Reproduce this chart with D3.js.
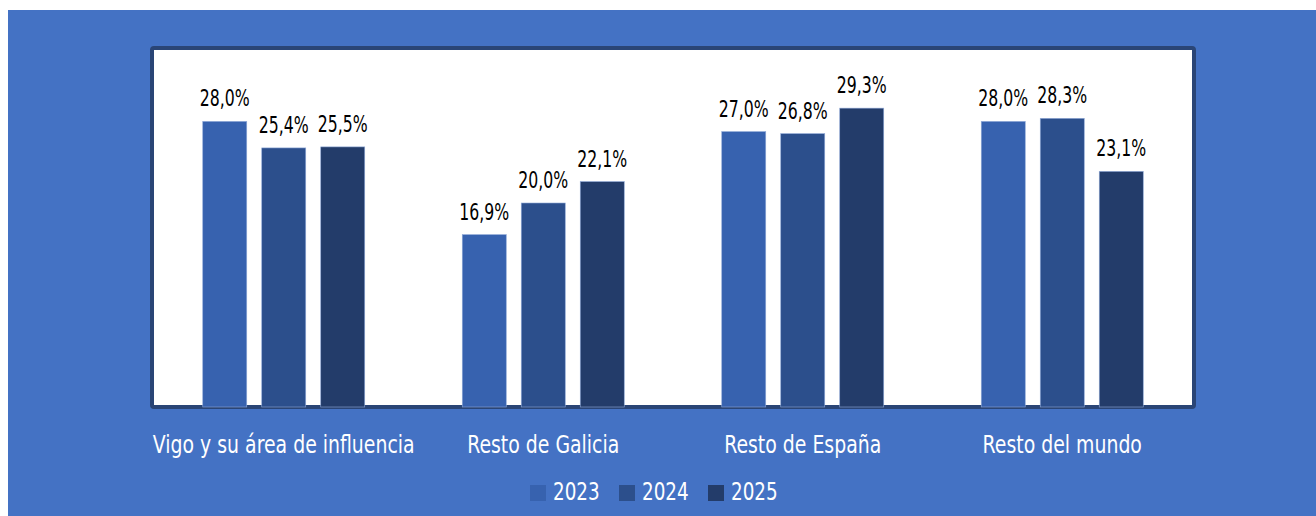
<!DOCTYPE html>
<html>
<head>
<meta charset="utf-8">
<script src="https://cdn.jsdelivr.net/npm/d3@7"></script>
<style>
  html, body { margin: 0; padding: 0; background: #fff; }
  svg { display: block; }
  text { font-family: "DejaVu Sans Condensed", "DejaVu Sans", sans-serif; font-stretch: condensed; }
</style>
</head>
<body>
<div id="chart"></div>
<script>
var categories = ["Vigo y su área de influencia", "Resto de Galicia", "Resto de España", "Resto del mundo"];
var years = ["2023", "2024", "2025"];
var values2023 = [28.0, 16.9, 27.0, 28.0];
var values2024 = [25.4, 20.0, 26.8, 28.3];
var values2025 = [25.5, 22.1, 29.3, 23.1];

var series = [values2023, values2024, values2025];

var width = 1316,
    height = 516;

var colors = ["#3762af", "#2c4f8c", "#233c6a"];

var svg = d3.select("#chart")
            .append("svg")
            .attr("width", width)
            .attr("height", height);

/* blue background */
svg.append("rect")
    .attr("x", 8)
    .attr("y", 10)
    .attr("width", width - 8)
    .attr("height", height - 10)
    .attr("fill", "#4472c4");

/* white plot panel with dark frame */
var plot = { left: 154, right: 1192, top: 50, bottom: 407 };

svg.append("rect")
    .attr("x", plot.left - 2)
    .attr("y", plot.top - 2)
    .attr("width", plot.right - plot.left + 4)
    .attr("height", plot.bottom - plot.top + 2)
    .attr("rx", 2)
    .attr("fill", "#fff")
    .attr("stroke", "#2a4576")
    .attr("stroke-width", 4);

/* scales */
var x0 = d3.scaleBand()
            .domain(categories)
            .range([plot.left, plot.right]);

var x1 = d3.scaleBand()
            .domain(years)
            .range([x0.bandwidth() / 2 - 81, x0.bandwidth() / 2 + 81])
            .paddingInner(0.254);

var y = d3.scaleLinear()
            .domain([0, 35])
            .range([plot.bottom, plot.top]);

var color = d3.scaleOrdinal().domain(years).range(colors);

var fmt = function(v) { return d3.format(".1f")(v).replace(".", ",") + "%"; };

/* narrow text: the reference font is much narrower than anything installed */
var place = function(x, y, sx) { return "translate(" + x + "," + y + ") scale(" + sx + ",1)"; };

/* bars */
var groups = svg.append("g")
    .selectAll("g")
    .data(categories)
    .enter().append("g")
        .attr("transform", function(d) { return "translate(" + x0(d) + ",0)"; });

var cells = groups.selectAll("g")
    .data(function(d, i) { return years.map(function(yr, j) { return { year: yr, value: series[j][i] }; }); })
    .enter().append("g");

cells.append("rect")
    .attr("x", function(d) { return x1(d.year); })
    .attr("y", function(d) { return y(d.value); })
    .attr("width", x1.bandwidth())
    .attr("height", function(d) { return y(0) - y(d.value); })
    .attr("fill", function(d) { return color(d.year); })
    .attr("stroke", "#8fa9d8")
    .attr("stroke-width", 0.6);

cells.append("text")
    .attr("transform", function(d) { return place(x1(d.year) + x1.bandwidth() / 2, y(d.value) - 15, 0.76); })
    .attr("text-anchor", "middle")
    .attr("font-size", 23)
    .attr("fill", "#000")
    .text(function(d) { return fmt(d.value); });

/* category labels */
svg.append("g")
    .selectAll("text")
    .data(categories)
    .enter().append("text")
        .attr("transform", function(d) { return place(x0(d) + x0.bandwidth() / 2, 453, 0.84); })
        .attr("text-anchor", "middle")
        .attr("font-size", 25)
        .attr("fill", "#fff")
        .text(function(d) { return d; });

/* legend */
var legend = svg.append("g")
    .selectAll("g")
    .data(years)
    .enter().append("g")
        .attr("transform", function(d, i) { return "translate(" + (530 + i * 89) + ",485)"; });

legend.append("rect")
    .attr("width", 16)
    .attr("height", 16)
    .attr("fill", color);

legend.append("text")
    .attr("transform", place(23, 15, 0.85))
    .attr("font-size", 24)
    .attr("fill", "#fff")
    .text(function(d) { return d; });
</script>
</body>
</html>
